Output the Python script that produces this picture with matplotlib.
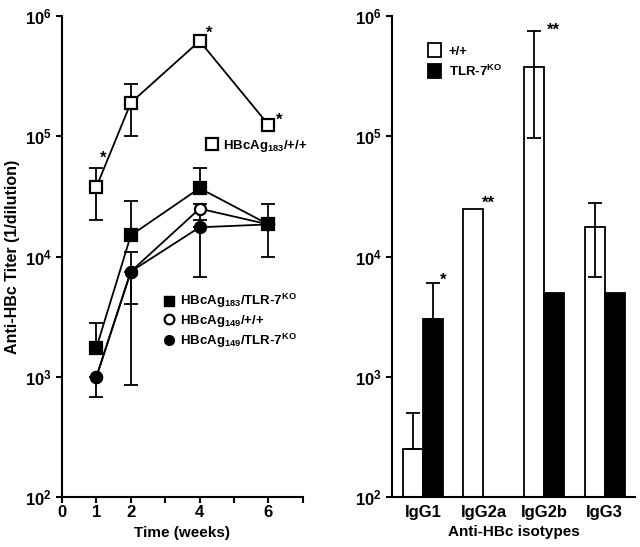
## Anti-HBc titers over time (left) and by isotype (right)

import numpy as np
import matplotlib.pyplot as plt
from matplotlib.lines import Line2D
from matplotlib.patches import Patch
from matplotlib.ticker import FixedLocator, NullLocator

plt.rcParams['font.family'] = ['Liberation Sans', 'DejaVu Sans']
plt.rcParams['font.weight'] = 'bold'
plt.rcParams['mathtext.fontset'] = 'custom'
plt.rcParams['mathtext.rm'] = 'Liberation Sans:bold'
plt.rcParams['mathtext.bf'] = 'Liberation Sans:bold'
plt.rcParams['mathtext.it'] = 'Liberation Sans:bold'

# time course data
weeks = [1, 2, 4, 6]
h183_wt = [3.8e4, 1.9e5, 6.2e5, 1.25e5]
h183_wt_hi = [5.4e4, 2.7e5, 6.2e5, 1.25e5]
h183_wt_lo = [2.0e4, 1.0e5, 6.2e5, 1.25e5]
h183_ko = [1.75e3, 1.5e4, 3.7e4, 1.85e4]
h183_ko_hi = [2.8e3, 2.9e4, 5.4e4, 2.75e4]
h183_ko_lo = [1.75e3, 1.5e4, 3.7e4, 1.0e4]
h149_wt = [1.0e3, 7.5e3, 2.5e4, 1.85e4]
h149_wt_hi = [1.0e3, 1.1e4, 2.75e4, 1.85e4]
h149_wt_lo = [1.0e3, 4.0e3, 2.0e4, 1.85e4]
h149_ko = [1.0e3, 7.5e3, 1.75e4, 1.85e4]
h149_ko_hi = [1.0e3, 7.5e3, 1.75e4, 1.85e4]
h149_ko_lo = [6.8e2, 8.6e2, 6.8e3, 1.85e4]
stars_left = ['*', '', '*', '*']

# isotype data
isotypes = ['IgG1', 'IgG2a', 'IgG2b', 'IgG3']
wt_vals = [2.5e2, 2.5e4, 3.8e5, 1.75e4]
wt_hi = [5.0e2, np.nan, 7.5e5, 2.8e4]
wt_lo = [np.nan, np.nan, 9.6e4, 6.8e3]
ko_vals = [3.0e3, np.nan, 5.0e3, 5.0e3]
ko_hi = [6.0e3, np.nan, np.nan, np.nan]
stars_right = ['*', '**', '**', '']

fig = plt.figure(figsize=(6.4, 5.47), dpi=100)
ax1 = fig.add_axes([0.097, 0.0914, 0.376, 0.8793])
ax2 = fig.add_axes([0.6125, 0.0914, 0.3795, 0.8793])

def style_log_axis(ax):
    ax.set_yscale('log')
    ax.set_ylim(1e2, 1e6)
    ax.yaxis.set_major_locator(FixedLocator([1e2, 1e3, 1e4, 1e5, 1e6]))
    ax.yaxis.set_minor_locator(NullLocator())
    ax.set_yticklabels(['$10^{%d}$' % i for i in range(2, 7)])
    for s in ['top', 'right']:
        ax.spines[s].set_visible(False)
    for s in ['left', 'bottom']:
        ax.spines[s].set_linewidth(1.5)
    ax.tick_params(width=1.5, length=4, labelsize=12)

# left panel
style_log_axis(ax1)
series = [
    (h183_wt, h183_wt_lo, h183_wt_hi, 's', 'white'),
    (h183_ko, h183_ko_lo, h183_ko_hi, 's', 'black'),
    (h149_wt, h149_wt_lo, h149_wt_hi, 'o', 'white'),
    (h149_ko, h149_ko_lo, h149_ko_hi, 'o', 'black'),
]
for vals, lo, hi, mk, fc in series:
    v = np.array(vals)
    yerr = [v - np.array(lo), np.array(hi) - v]
    ax1.errorbar(weeks, v, yerr=yerr, fmt='none', ecolor='black', elinewidth=1.3,
                 capsize=5, capthick=1.3, zorder=2)
    ax1.plot(weeks, v, color='black', lw=1.3, marker=mk, markersize=8,
             markerfacecolor=fc, markeredgecolor='black', markeredgewidth=1.6, zorder=3)

star_offsets = [(5, 1.05), (0, 1), (7, 1.0), (8, 0.95)]
for w, val, s, (dx, f) in zip(weeks, h183_wt_hi, stars_left, star_offsets):
    if s:
        ax1.annotate(s, (w, val * f), xytext=(dx, 0), textcoords='offset points',
                     ha='center', va='bottom', fontsize=12, fontweight='bold')

ax1.set_xlim(0, 7)
ax1.set_xticks(range(0, 8))
ax1.set_xticklabels(['0', '1', '2', '', '4', '', '6', ''])
ax1.tick_params(axis='x', pad=2)
ax1.set_xlabel('Time (weeks)', fontsize=11, fontweight='bold', labelpad=4)
ax1.set_ylabel('Anti-HBc Titer (1/dilution)', fontsize=11.5, fontweight='bold', labelpad=3)

h_wt = Line2D([], [], ls='none', marker='s', markersize=8, mfc='white', mec='black', mew=1.6)
leg1 = ax1.legend([h_wt], ['HBcAg$_{183}$/+/+'], loc='upper left', bbox_to_anchor=(0.575, 0.758),
                  frameon=False, fontsize=9.5, handletextpad=0.3, borderaxespad=0, handlelength=1)
ax1.add_artist(leg1)
h_ko = [
    Line2D([], [], ls='none', marker='s', markersize=6.5, mfc='black', mec='black'),
    Line2D([], [], ls='none', marker='o', markersize=7, mfc='white', mec='black', mew=1.6),
    Line2D([], [], ls='none', marker='o', markersize=7, mfc='black', mec='black'),
]
ax1.legend(h_ko, ['HBcAg$_{183}$/TLR-7$^{KO}$', 'HBcAg$_{149}$/+/+', 'HBcAg$_{149}$/TLR-7$^{KO}$'],
           loc='upper left', bbox_to_anchor=(0.395, 0.437), frameon=False, fontsize=9.5,
           handletextpad=0.3, borderaxespad=0, handlelength=1, labelspacing=0.2)

# right panel
style_log_axis(ax2)
x = np.arange(len(isotypes))
width = 0.33
ax2.bar(x - width / 2, wt_vals, width, color='white', edgecolor='black', linewidth=1.3, zorder=2)
ax2.bar(x + width / 2, ko_vals, width, color='black', edgecolor='black', linewidth=1.3, zorder=2)

for xi, v, lo, hi in zip(x - width / 2, wt_vals, wt_lo, wt_hi):
    if not np.isnan(hi):
        low = 0 if np.isnan(lo) else v - lo
        ax2.errorbar(xi, v, yerr=[[low], [hi - v]], fmt='none', ecolor='black',
                     elinewidth=1.3, capsize=5, capthick=1.3, zorder=3)
for xi, v, hi in zip(x + width / 2, ko_vals, ko_hi):
    if not np.isnan(hi):
        ax2.errorbar(xi, v, yerr=[[0], [hi - v]], fmt='none', ecolor='black',
                     elinewidth=1.3, capsize=5, capthick=1.3, zorder=3)

star_pos = [(0.33, 5.5e3), (1.08, 2.4e4), (2.15, 6.6e5)]
for (sx, sy), s in zip(star_pos, [t for t in stars_right if t]):
    ax2.annotate(s, (sx, sy), xytext=(0, 0), textcoords='offset points',
                 ha='center', va='bottom', fontsize=12, fontweight='bold')

ax2.set_xlim(-0.51, 3.5)
ax2.set_xticks(x)
ax2.set_xticklabels(isotypes)
ax2.tick_params(axis='x', length=0, pad=6)
ax2.set_xlabel('Anti-HBc isotypes', fontsize=11, fontweight='bold', labelpad=3)

h_bar = [Patch(facecolor='white', edgecolor='black', linewidth=1.3),
         Patch(facecolor='black', edgecolor='black', linewidth=1.3)]
ax2.legend(h_bar, ['+/+', 'TLR-7$^{KO}$'], loc='upper left', bbox_to_anchor=(0.125, 0.955),
           frameon=False, fontsize=9.5, handlelength=1.0, handleheight=1.3,
           handletextpad=0.6, labelspacing=0.45, borderaxespad=0)

fig.savefig('out.png', dpi=100)
